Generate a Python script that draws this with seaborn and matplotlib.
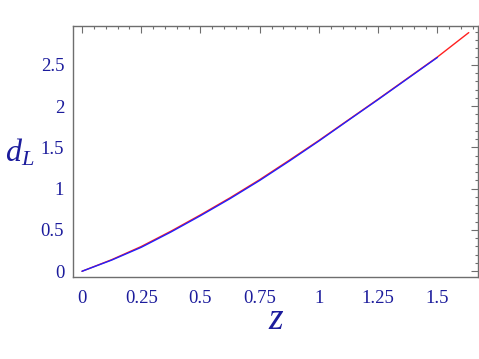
import numpy as np
import pandas as pd
import matplotlib
matplotlib.use("Agg")
import matplotlib.pyplot as plt
import seaborn as sns
from matplotlib.ticker import MultipleLocator

# values
z_blue = [0, 0.125, 0.25, 0.375, 0.5, 0.625, 0.75, 0.875, 1.0, 1.125, 1.25, 1.375, 1.5]
dl_blue = [0, 0.135, 0.29, 0.475, 0.673, 0.88, 1.10, 1.335, 1.578, 1.83, 2.08, 2.335, 2.59]

z_red = [0, 0.125, 0.25, 0.375, 0.5, 0.625, 0.75, 0.875, 1.0, 1.125, 1.25, 1.375, 1.5, 1.632]
dl_red = [0, 0.14, 0.30, 0.485, 0.683, 0.89, 1.11, 1.345, 1.585, 1.835, 2.085, 2.34, 2.595, 2.89]

xticks = [0, 0.25, 0.5, 0.75, 1, 1.25, 1.5]
xticklabels = ["0", "0.25", "0.5", "0.75", "1", "1.25", "1.5"]
yticks = [0, 0.5, 1, 1.5, 2, 2.5]
yticklabels = ["0", "0.5", "1", "1.5", "2", "2.5"]

sns.set_style("white")
plt.rcParams["font.family"] = ["Liberation Serif", "DejaVu Serif"]
plt.rcParams["mathtext.fontset"] = "custom"
plt.rcParams["mathtext.it"] = "Liberation Serif:italic"
plt.rcParams["mathtext.rm"] = "Liberation Serif"

navy = "#1c1c9c"
frame = "#6e6e6e"

df_red = pd.DataFrame({"z": z_red, "dl": dl_red})
df_blue = pd.DataFrame({"z": z_blue, "dl": dl_blue})

fig = plt.figure(figsize=(4.79, 3.59), dpi=100)
ax = fig.add_axes([0.1514, 0.2276, 0.847, 0.7])

sns.lineplot(data=df_red, x="z", y="dl", color="#ff2020", lw=1.0, ax=ax)
sns.lineplot(data=df_blue, x="z", y="dl", color="#2020ff", lw=1.0, ax=ax)

ax.set_xlim(-0.04, 1.672)
ax.set_ylim(-0.073, 2.97)
ax.set_xticks(xticks)
ax.set_xticklabels(xticklabels)
ax.set_yticks(yticks)
ax.set_yticklabels(yticklabels)
ax.xaxis.set_minor_locator(MultipleLocator(0.05))
ax.yaxis.set_minor_locator(MultipleLocator(0.1))
ax.tick_params(which="both", direction="in", top=True, right=True, color=frame, width=0.8)
ax.tick_params(which="major", length=5)
ax.tick_params(which="minor", length=2.5)
ax.tick_params(axis="x", which="major", labelsize=13.5, labelcolor=navy, pad=9)
ax.tick_params(axis="y", which="major", labelsize=13.5, labelcolor=navy, pad=6)
for s in ax.spines.values():
    s.set_color(frame)
    s.set_linewidth(1.0)

ax.set_xlabel("")
ax.set_ylabel("")
fig.text(0.042, 0.574, "$d_L$", color=navy, fontsize=23, ha="center", va="center")
fig.text(0.576, 0.109, "$z$", color=navy, fontsize=27, ha="center", va="center")

fig.savefig("out.png", dpi=100)
